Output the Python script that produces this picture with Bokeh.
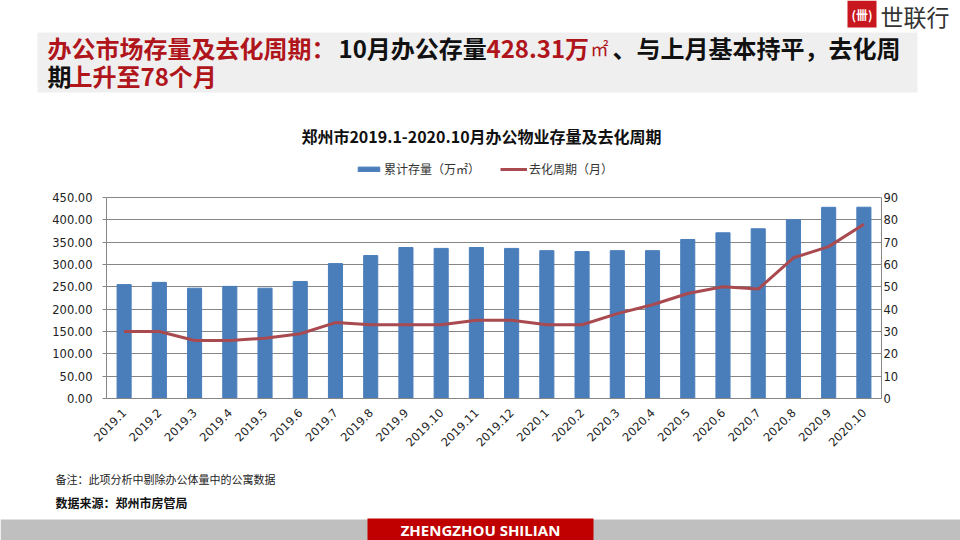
import math
from bokeh.plotting import figure
from bokeh.layouts import column
from bokeh.models import (Range1d, LinearAxis, FixedTicker, NumeralTickFormatter,
                          Label, BoxAnnotation, Legend, LegendItem, ColumnDataSource)
from bokeh.embed import file_html
from bokeh.resources import INLINE

# ---------------- data ----------------
months = ["2019.1", "2019.2", "2019.3", "2019.4", "2019.5", "2019.6", "2019.7",
          "2019.8", "2019.9", "2019.10", "2019.11", "2019.12", "2020.1", "2020.2",
          "2020.3", "2020.4", "2020.5", "2020.6", "2020.7", "2020.8", "2020.9", "2020.10"]
stock = [255, 260, 247, 251, 247, 262, 302, 320, 338, 336, 338, 336,
         331, 329, 331, 331, 356, 371, 380, 400, 428, 428.31]
cycle = [30, 30, 26, 26, 27, 29, 34, 33, 33, 33, 35, 35,
         33, 33, 38, 42, 47, 50, 49, 63, 68, 78]
left_ticks = [0, 50, 100, 150, 200, 250, 300, 350, 400, 450]
right_ticks = [0, 10, 20, 30, 40, 50, 60, 70, 80, 90]

W = 960
HEAD_H, CHART_H, FOOT_H = 100, 360, 80
FL, FR, FT, FB = 106, 881, 197, 398   # plot-area edges in page px
BAR = "#4A7EBB"
LINE = "#A84A50"
RED = "#B0151C"
CJK = "Noto Sans CJK SC"
TICK_FONT = "DejaVu Sans"

LMAX, RMAX = 450, 90
ext = (FB - HEAD_H) / (FB - FT)   # y range extended so title/legend sit in the frame


def plain_fig(h):
    f = figure(width=W, height=h, x_range=Range1d(0, W), y_range=Range1d(h, 0),
               output_backend="svg", toolbar_location=None,
               x_axis_type=None, y_axis_type=None, frame_align=False,
               min_border_left=0, min_border_right=0, min_border_top=0, min_border_bottom=0)
    f.outline_line_color = None
    f.grid.visible = False
    f.background_fill_color = "white"
    f.border_fill_color = "white"
    return f


def box(f, l, t, r, b, color, y0=0):
    f.add_layout(BoxAnnotation(left=l, right=r, top=t - y0, bottom=b - y0,
                               fill_color=color, fill_alpha=1, line_color=None,
                               level="underlay"))


def text(f, x, y, s, size, color="#111111", bold=False, font=CJK, align="left", y0=0):
    f.add_layout(Label(x=x, y=y - y0, text=s, text_font=font, text_font_size=f"{size}px",
                       text_font_style="bold" if bold else "normal",
                       text_color=color, text_align=align, text_baseline="middle",
                       level="overlay"))


# ---------------- header ----------------
head = plain_fig(HEAD_H)
box(head, 37, 32, 917, 92, "#EFEFEF")
box(head, 847, 0, 876, 27, "#C8161E")
text(head, 861.5, 14, "(卌)", 12, color="white", bold=True, align="center")
text(head, 880, 15, "世联行", 23, color="#333333")
text(head, 47, 47, "办公市场存量及去化周期：", 24, RED, True)
text(head, 338, 47, "10月办公存量", 24, "#111111", True)
text(head, 486, 47, "428.31万", 24, RED, True)
text(head, 590, 47, "㎡", 18, RED, False)
text(head, 612, 47, "、与上月基本持平，去化周", 24, "#111111", True)
text(head, 47, 75, "期", 24, "#111111", True)
text(head, 68, 75, "上升至78个月", 24, RED, True)

# ---------------- chart ----------------
src = ColumnDataSource(dict(m=months, s=stock, c=cycle))
p = figure(width=W, height=CHART_H, x_range=months, y_range=Range1d(0, LMAX * ext),
           output_backend="svg", toolbar_location=None, frame_align=False,
           min_border_left=FL, min_border_right=W - FR,
           min_border_top=0, min_border_bottom=HEAD_H + CHART_H - FB)
p.outline_line_color = None
p.background_fill_color = "white"
p.border_fill_color = "white"
p.extra_y_ranges = {"cyc": Range1d(0, RMAX * ext)}

bars = p.vbar(x="m", top="s", width=0.4, source=src, color=BAR)
ln = p.line(x="m", y="c", source=src, y_range_name="cyc", line_color=LINE, line_width=3)

ax = p.yaxis[0]
ax.ticker = FixedTicker(ticks=left_ticks)
ax.bounds = (0, LMAX)
ax.formatter = NumeralTickFormatter(format="0.00")
ax.minor_tick_line_color = None
ax.major_tick_in = 0
ax.major_tick_out = 4
ax.axis_line_color = "#868686"
ax.major_tick_line_color = "#868686"
ax.major_label_text_font = TICK_FONT
ax.major_label_text_font_size = "11.5px"
ax.major_label_text_color = "#222222"
ax.major_label_standoff = 10

rax = LinearAxis(y_range_name="cyc", ticker=FixedTicker(ticks=right_ticks), bounds=(0, RMAX))
rax.minor_tick_line_color = None
rax.major_tick_in = 0
rax.major_tick_out = 0
rax.axis_line_color = "#868686"
rax.major_label_text_font = TICK_FONT
rax.major_label_text_font_size = "11.5px"
rax.major_label_text_color = "#222222"
rax.major_label_standoff = 2
p.add_layout(rax, "right")

xa = p.xaxis[0]
xa.major_label_orientation = math.pi / 4
xa.axis_line_color = "#868686"
xa.major_tick_line_color = None
xa.major_label_text_font = TICK_FONT
xa.major_label_text_font_size = "11.5px"
xa.major_label_text_color = "#222222"
xa.major_label_standoff = 6

p.xgrid.grid_line_color = None
p.ygrid.ticker = FixedTicker(ticks=left_ticks)
p.ygrid.grid_line_color = "#868686"

ypx = LMAX / (FB - FT)   # data units per pixel (left axis)
xpx = len(months) / (FR - FL)
p.add_layout(Label(x=(481 - FL) * xpx, y=(FB - 135) * ypx,
                   text="郑州市2019.1-2020.10月办公物业存量及去化周期",
                   text_font=CJK, text_font_size="16px", text_font_style="bold",
                   text_color="#111111", text_align="center", text_baseline="middle"))

leg = Legend(items=[LegendItem(label="累计存量（万㎡）", renderers=[bars]),
                    LegendItem(label="去化周期（月）", renderers=[ln])],
             orientation="horizontal", location=(355 - FL, FB - 177),
             glyph_width=27, glyph_height=6, label_standoff=2, spacing=20,
             padding=0, margin=0, border_line_color=None, background_fill_alpha=0,
             label_text_font=CJK, label_text_font_size="12px",
             label_text_color="#333333", label_height=12)
p.add_layout(leg, "center")

# ---------------- footer ----------------
foot = plain_fig(FOOT_H)
y0 = HEAD_H + CHART_H
box(foot, 0, 519, 960, 540, "#BFBFBF", y0)
box(foot, 367, 518, 593, 540, "#C00000", y0)
text(foot, 55, 478, "备注：此项分析中剔除办公体量中的公寓数据", 11, "#222222", y0=y0)
text(foot, 55, 502, "数据来源：郑州市房管局", 12, "#111111", True, y0=y0)
text(foot, 480, 529, "ZHENGZHOU SHILIAN", 15, "white", True, font="Open Sans",
     align="center", y0=y0)

layout = column(head, p, foot, spacing=0)
open("out.html", "w").write(file_html(layout, INLINE))
